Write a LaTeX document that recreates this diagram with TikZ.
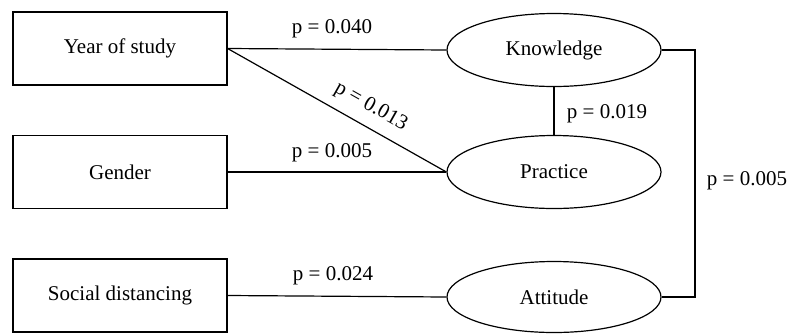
\documentclass[tikz,border=0pt]{standalone}
\usepackage{fontspec}
\setmainfont{Liberation Serif}
\usetikzlibrary{shapes.geometric}
\begin{document}
\begin{tikzpicture}[x=1pt,y=-1pt,
  every node/.style={font=\fontsize{21}{25}\selectfont},
  varbox/.style={draw, line width=1.2pt, rectangle, minimum width=214pt, minimum height=73pt, inner sep=0pt},
  latent/.style={draw, line width=1.2pt, ellipse, minimum width=214pt, minimum height=73pt, inner sep=0pt},
  conn/.style={line width=1.2pt},
  plabel/.style={inner sep=0pt}]
\useasboundingbox (0,0) rectangle (790,333);
\node[varbox] (yos) at (120,48.5) {Year of study};
\node[varbox] (gen) at (120,172) {Gender};
\node[varbox] (soc) at (120,295.5) {Social distancing};
\node[latent] (know) at (554,50) {Knowledge};
\node[latent] (prac) at (554,172) {Practice};
\node[latent, minimum height=71pt] (att) at (554,297) {Attitude};
\coordinate (brk) at (695,0);
\draw[conn] (yos.east) -- (know.west);
\draw[conn] (yos.east) -- node[pos=0.61, sloped, above=10pt, plabel] (l013) {p = 0.013} (prac.west);
\draw[conn] (gen.east) -- (prac.west);
\draw[conn] (soc.east) -- (att.west);
\draw[conn] (know.south) -- (prac.north);
\draw[conn] (know.east) -- (know.east -| brk) |- (att.east);
\node[plabel] (l040) at (332,29) {p = 0.040};
\node[plabel] (l005a) at (332,153) {p = 0.005};
\node[plabel] (l024) at (333,276) {p = 0.024};
\node[plabel] (l019) at (607,114) {p = 0.019};
\node[plabel] (l005b) at (747,181) {p = 0.005};
\end{tikzpicture}
\end{document}
